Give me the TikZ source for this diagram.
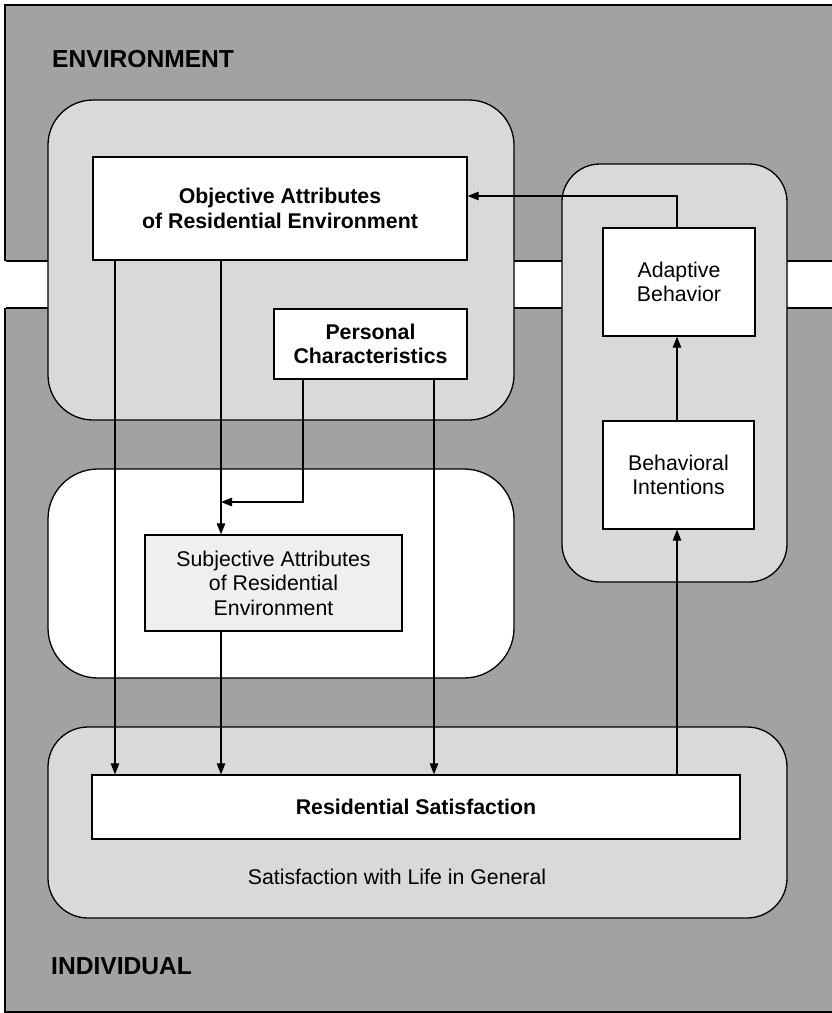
\documentclass[tikz,border=0pt]{standalone}
\usepackage{fontspec}
\setmainfont{Liberation Sans}
\usetikzlibrary{arrows.meta}
\definecolor{bgGray}{HTML}{A2A2A2}
\definecolor{lightGray}{HTML}{D9D9D9}
\definecolor{subjGray}{HTML}{EFEFEF}
\tikzset{
  container/.style={draw=black, line width=1.3pt},
  boxnode/.style={draw=black, line width=1.3pt, fill=white, align=center, inner sep=0pt,
    font=\fontsize{21.3}{24.5}\selectfont},
  arr/.style={draw=black, line width=1.1pt, -{Triangle[length=11pt,width=8.5pt]}},
  plain/.style={draw=black, line width=1.1pt},
  heading/.style={font=\fontsize{24.6}{28}\selectfont\bfseries, anchor=base west, inner sep=0pt}
}
\begin{document}
\begin{tikzpicture}[x=1pt,y=-1pt]
\useasboundingbox (0,0) rectangle (831,1013);
% background frame
\fill[white] (0,0) rectangle (831,1013);
\fill[bgGray] (5,5) rectangle (840,1012);
\draw[line width=1.3pt] (840,5) -- (5,5) -- (5,1012) -- (840,1012);
% white band
\fill[white] (0,261) rectangle (840,308);
\draw[line width=1.3pt] (6,261) -- (840,261) (6,308) -- (840,308);
% containers
\draw[container, fill=lightGray, rounded corners=45pt] (48,100) rectangle (514,420);
\draw[container, fill=white, rounded corners=50pt] (48,469) rectangle (514,678);
\draw[container, fill=lightGray, rounded corners=38pt] (562,164) rectangle (787,582);
\draw[container, fill=lightGray, rounded corners=40pt] (48,727) rectangle (787,918);
% headings
\node[heading] (env) at (52,67) {ENVIRONMENT};
\node[heading] (ind) at (51,974) {INDIVIDUAL};
% boxes
\node[boxnode, minimum width=374pt, minimum height=103pt, font=\fontsize{21.3}{24.5}\selectfont\bfseries] (obj) at (280,208.5) {Objective Attributes\\of Residential Environment};
\node[boxnode, minimum width=193pt, minimum height=70pt, font=\fontsize{21.3}{24.5}\selectfont\bfseries] (pers) at (370.5,344) {Personal\\Characteristics};
\node[boxnode, fill=subjGray, minimum width=257pt, minimum height=96pt] (subj) at (273.5,583) {Subjective Attributes\\of Residential\\Environment};
\node[boxnode, minimum width=152pt, minimum height=108pt] (adapt) at (679,282) {Adaptive\\Behavior};
\node[boxnode, minimum width=151pt, minimum height=108pt] (intent) at (678.5,475) {Behavioral\\Intentions};
\node[boxnode, minimum width=648pt, minimum height=64pt, font=\fontsize{21.3}{24.5}\selectfont\bfseries] (resid) at (416,807) {Residential Satisfaction};
\node[font=\fontsize{21.3}{24.5}\selectfont, inner sep=0pt] (life) at (397,877) {Satisfaction with Life in General};
% guide coordinates
\coordinate (xa) at (115,0);
\coordinate (xb) at (221,0);
\coordinate (xc) at (303,0);
\coordinate (xd) at (434,0);
\coordinate (xe) at (677,0);
\coordinate (ya) at (0,502);
\coordinate (yb) at (0,196);
\coordinate (join) at (221,502);
% connectors
\draw[arr] (obj.south -| xa) -- (resid.north -| xa);
\draw[arr] (obj.south -| xb) -- (subj.north -| xb);
\draw[arr] (pers.south -| xc) |- (join);
\draw[arr] (pers.south -| xd) -- (resid.north -| xd);
\draw[arr] (subj.south -| xb) -- (resid.north -| xb);
\draw[arr] (resid.north -| xe) -- (intent.south -| xe);
\draw[arr] (intent.north -| xe) -- (adapt.south -| xe);
\draw[arr] (adapt.north -| xe) |- (obj.east |- yb);
\end{tikzpicture}
\end{document}
